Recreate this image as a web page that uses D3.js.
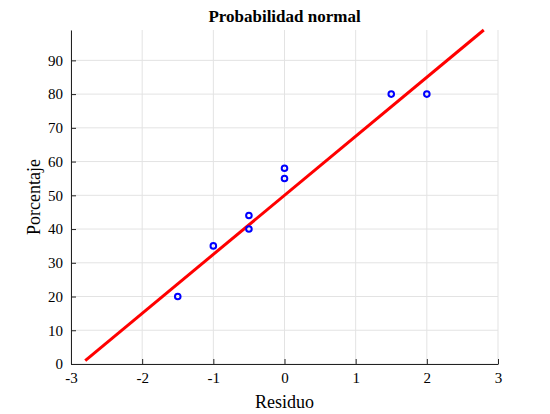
<!DOCTYPE html>
<html><head><meta charset="utf-8">
<script src="https://cdn.jsdelivr.net/npm/d3@7"></script>
<style>body{margin:0;background:#fff}text{font-family:"Liberation Serif",serif}</style>
</head><body><svg id="c" width="550" height="414"></svg>
<script>
// data
let resX = [-1.5, -1, -0.5, -0.5, 0, 0, 1.5, 2];
let pctY = [20, 35, 40, 44, 55, 58, 80, 80];
let fitX = [-2.8, 2.8];
let fitY = [1, 99];
let xTicks = [-3, -2, -1, 0, 1, 2, 3];
let yTicks = [0, 10, 20, 30, 40, 50, 60, 70, 80, 90];

let margin = {top: 30, right: 52, bottom: 50, left: 71},
    width = 550 - margin.left - margin.right,
    height = 414 - margin.top - margin.bottom;

let svg = d3.select('#c'),
    g = svg.append('g').attr('transform', 'translate(' + margin.left + ',' + margin.top + ')');

let x = d3.scaleLinear().domain([-3, 3]).range([0, width]);
let y = d3.scaleLinear().domain([0, 99]).range([height, 0]);

// grid
g.selectAll('.gx').data(xTicks).enter().append('line')
    .attr('x1', d => x(d)).attr('x2', d => x(d)).attr('y1', 0).attr('y2', height)
    .attr('stroke', '#e3e3e3');
g.selectAll('.gy').data(yTicks).enter().append('line')
    .attr('y1', d => y(d)).attr('y2', d => y(d)).attr('x1', 0).attr('x2', width)
    .attr('stroke', '#e3e3e3');

// axes
let fmt = d => String(d);
let xa = g.append('g').attr('transform', 'translate(0,' + height + ')')
    .call(d3.axisBottom(x).tickValues(xTicks).tickFormat(fmt).tickSizeInner(-5).tickSizeOuter(0).tickPadding(8));
let ya = g.append('g')
    .call(d3.axisLeft(y).tickValues(yTicks).tickFormat(fmt).tickSizeInner(-5).tickSizeOuter(0).tickPadding(8));
[xa, ya].forEach(a => {
    a.selectAll('path,line').attr('stroke', '#222');
    a.selectAll('text').attr('font-size', 15).attr('fill', '#000')
        .style('font-family', '"Liberation Serif",serif');
});

// fitted line
g.append('line')
    .attr('x1', x(fitX[0])).attr('y1', y(fitY[0]))
    .attr('x2', x(fitX[1])).attr('y2', y(fitY[1]))
    .attr('stroke', '#ff0000').attr('stroke-width', 3);

// points
g.selectAll('.pt').data(resX).enter().append('circle')
    .attr('cx', d => x(d)).attr('cy', (d, i) => y(pctY[i]))
    .attr('r', 2.8).attr('fill', 'none').attr('stroke', '#0000ff').attr('stroke-width', 2);

// labels
svg.append('text').attr('x', margin.left + width / 2).attr('y', 22)
    .attr('text-anchor', 'middle').attr('font-size', 17).attr('font-weight', 'bold')
    .text('Probabilidad normal');
svg.append('text').attr('x', margin.left + width / 2).attr('y', 408)
    .attr('text-anchor', 'middle').attr('font-size', 18).text('Residuo');
svg.append('text').attr('transform', 'translate(40,' + (margin.top + height / 2) + ') rotate(-90)')
    .attr('text-anchor', 'middle').attr('font-size', 18).text('Porcentaje');
</script></body></html>
